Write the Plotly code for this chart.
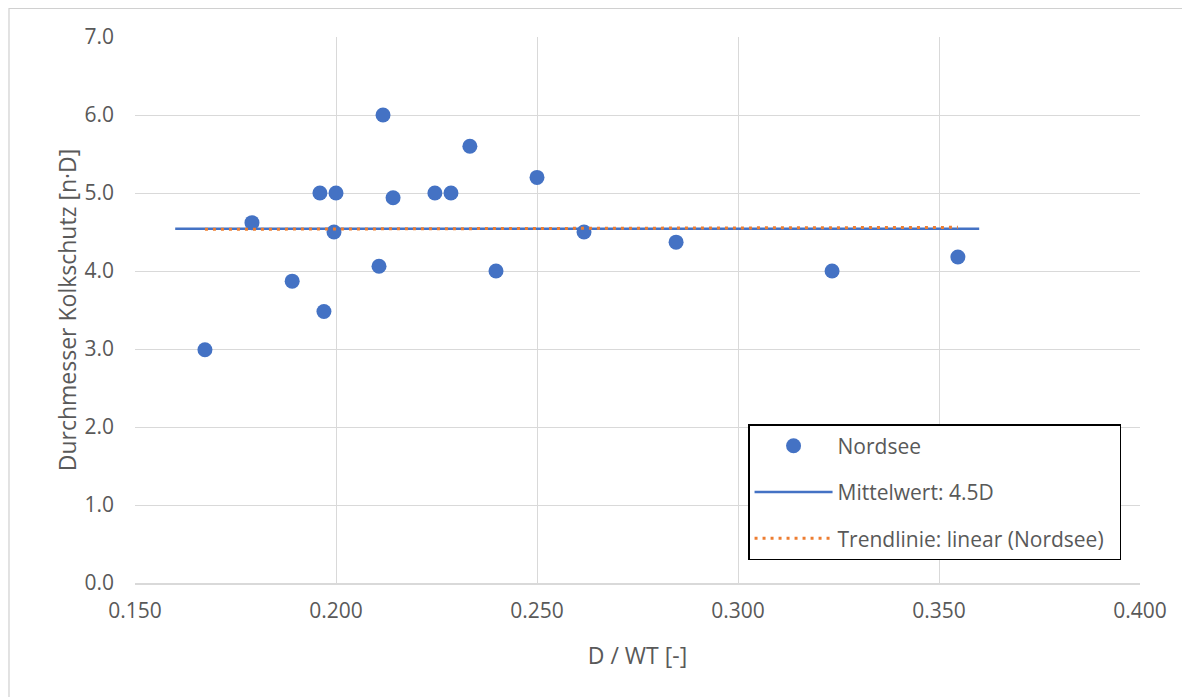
import numpy as np
import plotly.graph_objects as go

# Data
d_wt = [0.1674, 0.1791, 0.1891, 0.1960, 0.1970, 0.2000, 0.1995, 0.2107, 0.2117, 0.2142,
        0.2246, 0.2286, 0.2333, 0.2398, 0.2500, 0.2617, 0.2846, 0.3234, 0.3547]
kolk = [2.99, 4.62, 3.87, 5.00, 3.48, 5.00, 4.50, 4.06, 6.00, 4.94,
        5.00, 5.00, 5.60, 4.00, 5.20, 4.50, 4.37, 4.00, 4.18]
mean_x_range = [0.160, 0.360]
x_ticks = [0.150, 0.200, 0.250, 0.300, 0.350, 0.400]
y_ticks = [0.0, 1.0, 2.0, 3.0, 4.0, 5.0, 6.0, 7.0]

mean_val = float(np.mean(kolk))
slope, intercept = np.polyfit(d_wt, kolk, 1)
trend_x = [min(d_wt), max(d_wt)]
trend_y = [slope * x + intercept for x in trend_x]

blue = "#4472C4"
orange = "#ED7D31"
grey_text = "#595959"
grid = "#D9D9D9"
font_family = "Open Sans, Noto Sans, sans-serif"

fig = go.Figure()
fig.add_trace(go.Scatter(
    x=d_wt, y=kolk, mode="markers", name="Nordsee",
    marker=dict(color=blue, size=15, line=dict(width=0)),
    legendgroup="a"))
fig.add_trace(go.Scatter(
    x=mean_x_range, y=[mean_val, mean_val], mode="lines", name="Mittelwert: 4.5D",
    line=dict(color=blue, width=2.5), legendgroup="b"))
fig.add_trace(go.Scatter(
    x=trend_x, y=trend_y, mode="lines", name="Trendlinie: linear (Nordsee)&nbsp;&nbsp;",
    line=dict(color=orange, width=3, dash="3px,5px"), legendgroup="c"))

L, T, PW, PH = 127, 29, 1005, 546
fig.update_layout(
    width=1190, height=697,
    paper_bgcolor="white", plot_bgcolor="white",
    margin=dict(l=L, r=1190 - L - PW, t=T, b=697 - T - PH),
    font=dict(family=font_family, color=grey_text, size=21),
    showlegend=True,
    legend=dict(
        x=0.61, y=0.291, xanchor="left", yanchor="top",
        bgcolor="white", bordercolor="black", borderwidth=1.5,
        font=dict(size=21, color=grey_text),
        itemwidth=78, tracegroupgap=16,
    ),
    xaxis=dict(
        range=[0.150, 0.400], tickvals=x_ticks,
        ticktext=[f"{v:.3f}" for v in x_ticks],
        showgrid=True, gridcolor=grid, gridwidth=1.2,
        zeroline=False, showline=True, linecolor=grid, linewidth=1.5,
        ticks="", ticklabelstandoff=8,
        title=dict(text="D / WT [-]", font=dict(size=23, color=grey_text), standoff=25),
    ),
    yaxis=dict(
        range=[0, 7.0], tickvals=y_ticks,
        ticktext=[f"{v:.1f}" for v in y_ticks],
        showgrid=True, gridcolor=grid, gridwidth=1.2,
        zeroline=False, showline=False,
        ticks="", ticklabelstandoff=20,
        title=dict(text="Durchmesser Kolkschutz [n·D]", font=dict(size=23, color=grey_text), standoff=1),
    ),
)

# outer chart-area frame
fig.add_shape(type="rect", xref="paper", yref="paper",
              x0=-(L - 1) / PW, x1=(1190 - L + 20) / PW,
              y0=-(697 - T - PH + 20) / PH, y1=1 + (T - 0.5) / PH,
              line=dict(color="#D0D0D0", width=1.2), fillcolor="rgba(0,0,0,0)", layer="below")

fig.write_html("out.html")
